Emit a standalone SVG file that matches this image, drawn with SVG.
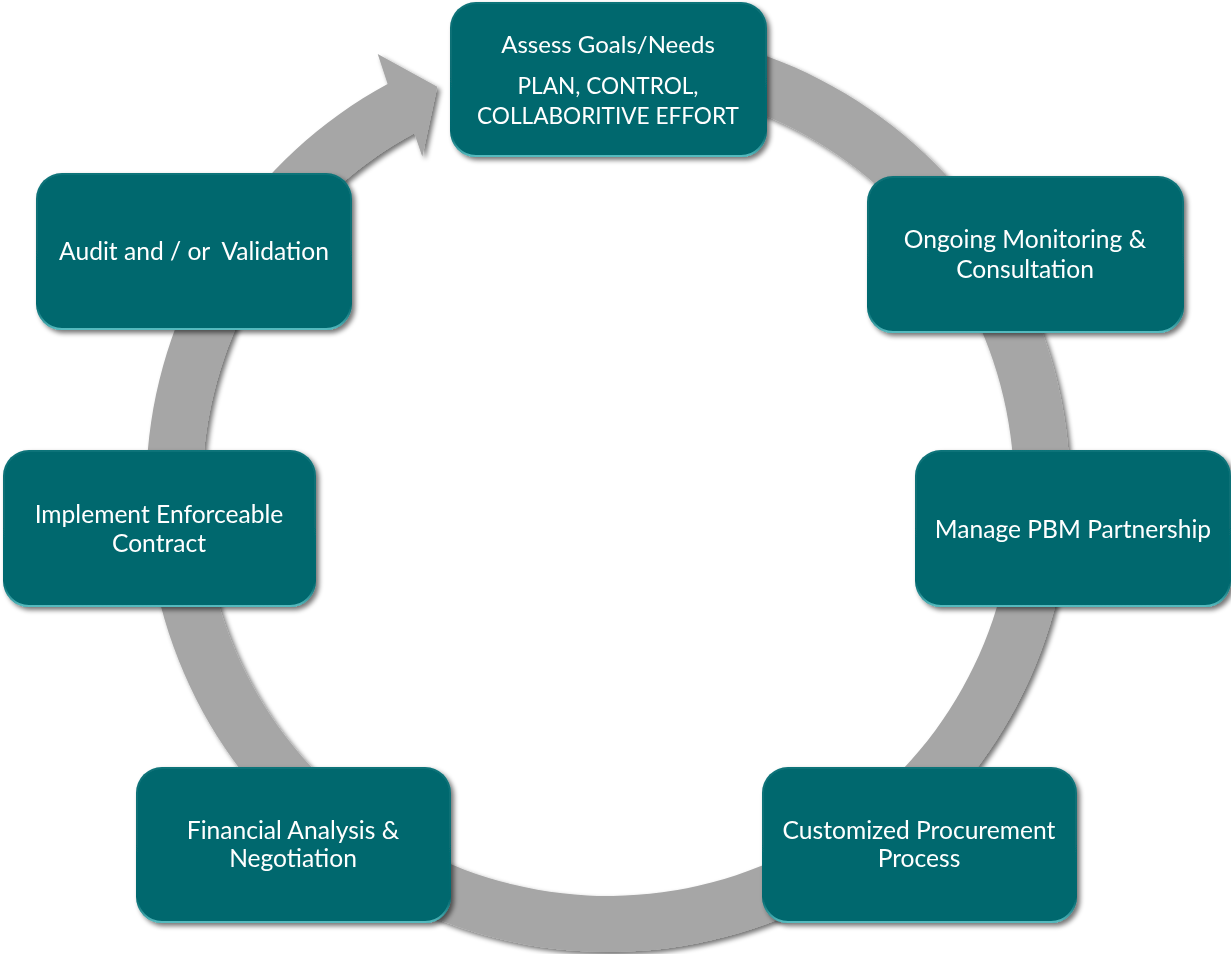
<svg xmlns="http://www.w3.org/2000/svg" width="1231" height="954" viewBox="0 0 1231 954">
  <style>
    .box { fill: #02686E; }
    .edge { fill: none; stroke: url(#bevel); stroke-width: 2; }
    .label { font-family: Lato, "Open Sans", "Liberation Sans", sans-serif; font-size: 24.6px; fill: #ffffff; text-anchor: middle; }
    .small { font-size: 24px; }
    .caps { font-size: 22.6px; }
    .ring { fill: #A6A6A6; }
  </style>
  <defs>
    <filter id="shadow" x="-10%" y="-10%" width="125%" height="125%">
      <feGaussianBlur in="SourceAlpha" stdDeviation="2.5"/>
      <feOffset dx="3" dy="3" result="blur"/>
      <feComponentTransfer><feFuncA type="linear" slope="0.55"/></feComponentTransfer>
      <feMerge><feMergeNode/><feMergeNode in="SourceGraphic"/></feMerge>
    </filter>
    <linearGradient id="bevel" x1="0" y1="0" x2="0" y2="1">
      <stop offset="0" stop-color="#4fb3b8" stop-opacity="0.15"/>
      <stop offset="0.85" stop-color="#4fb3b8" stop-opacity="0"/>
      <stop offset="1" stop-color="#5fc4c8" stop-opacity="0.9"/>
    </linearGradient>
  </defs>

  <!-- circular arrow band running clockwise behind the steps -->
  <g id="connectors">
    <path class="ring" filter="url(#shadow)"
      d="M 543.7 32.5 A 462 462 0 1 1 387.6 84.0 L 377.7 54 L 437.3 86.7 L 422.3 156.7 L 414.3 133.2 A 406 406 0 1 0 551.5 87.9 Z"/>
  </g>

  <g id="assess" filter="url(#shadow)">
    <rect class="box" x="450" y="2" width="317" height="155" rx="26"/>
    <rect class="edge" x="451" y="3" width="315" height="153" rx="25"/>
    <text class="label small" x="608" y="53">Assess Goals/Needs</text>
    <text class="label caps" x="608" y="94">PLAN, CONTROL,</text>
    <text class="label caps" x="608" y="124">COLLABORITIVE EFFORT</text>
  </g>

  <g id="monitoring" filter="url(#shadow)">
    <rect class="box" x="867" y="176" width="317" height="157" rx="26"/>
    <rect class="edge" x="868" y="177" width="315" height="155" rx="25"/>
    <text class="label" x="1025" y="248">Ongoing Monitoring &amp;</text>
    <text class="label" x="1025" y="278">Consultation</text>
  </g>

  <g id="manage" filter="url(#shadow)">
    <rect class="box" x="915" y="450" width="316" height="157" rx="26"/>
    <rect class="edge" x="916" y="451" width="314" height="155" rx="25"/>
    <text class="label" x="1073" y="538">Manage PBM Partnership</text>
  </g>

  <g id="procurement" filter="url(#shadow)">
    <rect class="box" x="762" y="767" width="315" height="156" rx="26"/>
    <rect class="edge" x="763" y="768" width="313" height="154" rx="25"/>
    <text class="label" x="919" y="839">Customized Procurement</text>
    <text class="label" x="919" y="867">Process</text>
  </g>

  <g id="financial" filter="url(#shadow)">
    <rect class="box" x="136" y="767" width="315" height="156" rx="26"/>
    <rect class="edge" x="137" y="768" width="313" height="154" rx="25"/>
    <text class="label" x="293" y="839">Financial Analysis &amp;</text>
    <text class="label" x="293" y="867">Negotiation</text>
  </g>

  <g id="contract" filter="url(#shadow)">
    <rect class="box" x="3" y="450" width="313" height="157" rx="26"/>
    <rect class="edge" x="4" y="451" width="311" height="155" rx="25"/>
    <text class="label" x="159" y="523">Implement Enforceable</text>
    <text class="label" x="159" y="552">Contract</text>
  </g>

  <g id="audit" filter="url(#shadow)">
    <rect class="box" x="36" y="173" width="316" height="157" rx="26"/>
    <rect class="edge" x="37" y="174" width="314" height="155" rx="25"/>
    <text class="label" x="194" y="260" xml:space="preserve">Audit and / or  Validation</text>
  </g>
</svg>
